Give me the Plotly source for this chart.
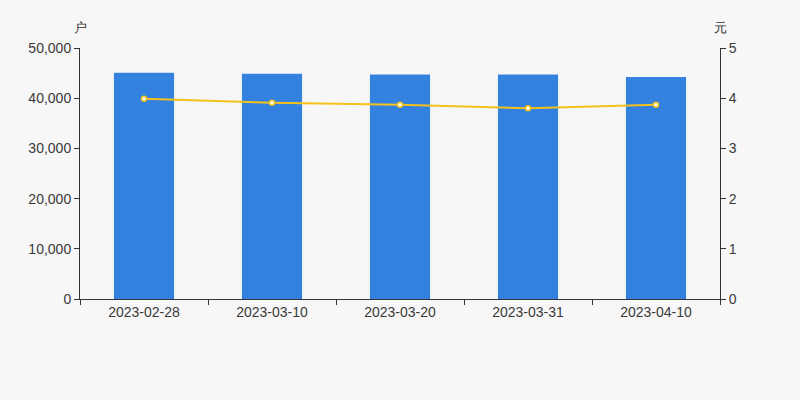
import plotly.graph_objects as go

dates = ["2023-02-28", "2023-03-10", "2023-03-20", "2023-03-31", "2023-04-10"]
holders = [45050, 44850, 44700, 44700, 44200]
price = [3.99, 3.91, 3.87, 3.80, 3.87]

TXT = "#333333"
fig = go.Figure()
fig.add_trace(go.Bar(x=dates, y=holders, marker=dict(color="#3482e0", line=dict(width=0)), yaxis="y"))
fig.add_trace(go.Scatter(x=dates, y=price, yaxis="y2", mode="lines+markers",
                         line=dict(color="#f5c21b", width=2),
                         marker=dict(color="#ffffff", size=5, line=dict(color="#f5c21b", width=1.5))))

font = dict(family="Liberation Sans, Arial, sans-serif", size=14, color="#3a3a3a")
axis_common = dict(showline=True, linecolor=TXT, linewidth=1, ticks="outside", ticklen=5,
                   tickcolor=TXT, showgrid=False, zeroline=False, tickfont=font)
fig.update_layout(
    width=800, height=400,
    margin=dict(l=80, r=80, t=48, b=101),
    paper_bgcolor="#f7f7f7", plot_bgcolor="#f7f7f7",
    showlegend=False, bargap=0.53,
    font=font,
    xaxis=dict(type="category", tickson="boundaries", **axis_common),
    yaxis=dict(range=[0, 50000], dtick=10000, tickformat=",", **axis_common),
    yaxis2=dict(range=[0, 5], dtick=1, overlaying="y", side="right", **axis_common),
)
pw, ph = 800 - 160, 400 - 149
for txt, px in (("户", 80), ("元", 720)):
    fig.add_annotation(text=txt, x=(px - 80) / pw, y=(400 - 101 - 27) / ph, xref="paper", yref="paper",
                       showarrow=False, xanchor="center", yanchor="middle", font=dict(size=13, color=TXT))
fig.write_html("out.html", config={"displayModeBar": False},
               post_script="document.body.style.margin='0';document.body.style.background='#f7f7f7';")
